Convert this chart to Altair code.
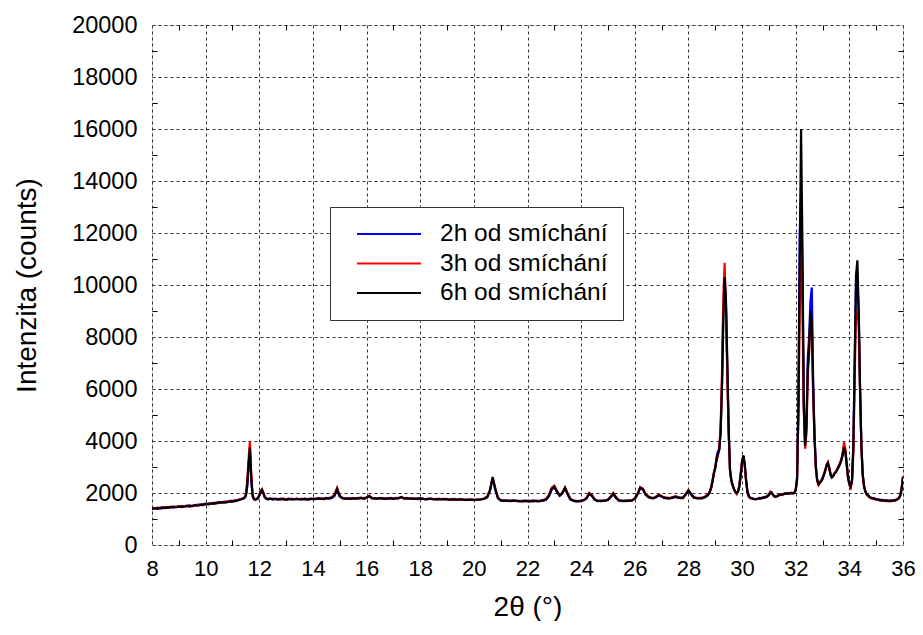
import altair as alt
import numpy as np
import pandas as pd

# ---------------- data ----------------
series_labels = ["2h od smíchání", "3h od smíchání", "6h od smíchání"]
series_colors = ["#0000ff", "#ff0000", "#000000"]

# sampling positions (2theta, degrees) of the four segments
x_seg_a = np.linspace(8.0, 11.4, 35)
x_seg_b = np.linspace(11.45, 12.40, 20)
x_seg_c = np.linspace(12.5, 28.7, 163)
x_seg_d = np.linspace(28.75, 36.0, 146)

# ---- 6h (black)
k_a = [1400,1420,1390,1430,1440,1420,1450,1460,1440,1470,
       1480,1460,1490,1500,1480,1510,1530,1510,1540,1560,
       1580,1560,1590,1610,1600,1630,1650,1630,1660,1680,
       1670,1700,1720,1750,1780]
k_b = [1820,1900,2300,3100,3750,2600,1900,1760,1750,1770,
       1800,1900,2050,2120,2000,1850,1790,1770,1760,1780]
k_c = [1760,1780,1750,1770,1760,1740,1770,1750,1760,1780,
       1750,1760,1770,1750,1780,1770,1760,1790,1780,1770,
       1800,1790,1820,1900,2150,1880,1800,1780,1790,1770,
       1800,1780,1790,1810,1790,1820,1880,1800,1790,1780,
       1800,1790,1770,1790,1800,1780,1790,1810,1850,1790,
       1800,1780,1790,1770,1780,1790,1770,1760,1780,1770,
       1750,1770,1760,1750,1770,1760,1740,1760,1750,1740,
       1760,1740,1730,1750,1740,1730,1750,1740,1760,1790,
       1850,2100,2620,2150,1800,1720,1700,1710,1690,1700,
       1710,1690,1700,1680,1700,1690,1680,1700,1690,1680,
       1700,1720,1760,1900,2150,2250,2050,1900,2000,2200,
       1950,1760,1700,1680,1690,1700,1720,1800,1980,1900,
       1750,1700,1690,1700,1710,1740,1850,1980,1820,1720,
       1700,1690,1710,1700,1720,1780,1950,2200,2150,1950,
       1850,1810,1800,1850,1920,1870,1820,1800,1790,1820,
       1860,1830,1800,1820,1950,2100,1950,1830,1800,1790,
       1800,1830,1900]
k_d = [1950,2050,2200,2450,2750,2950,3300,3500,3650,4300,
       6000,8600,10300,9400,7000,4500,2900,2500,2300,2150,
       2050,1990,2050,2250,2700,3200,3450,3100,2500,2050,
       1880,1820,1800,1780,1770,1760,1770,1780,1800,1790,
       1800,1820,1830,1850,1870,1920,2000,2020,1930,1870,
       1850,1870,1900,1920,1950,1930,1960,1980,1970,1990,
       1970,1990,2000,1980,2000,2100,2500,5200,11000,16000,
       11500,5500,3800,4500,6800,7600,9000,8600,6000,4200,
       3000,2500,2350,2400,2450,2550,2700,2850,3050,3150,
       2950,2700,2600,2650,2750,2800,2900,3000,3100,3250,
       3450,3750,3600,3100,2600,2350,2250,2500,3800,7000,
       10400,10950,9000,6000,3800,2700,2250,2050,1950,1900,
       1850,1820,1800,1790,1780,1760,1750,1740,1720,1730,
       1710,1720,1700,1710,1700,1690,1710,1700,1720,1710,
       1740,1760,1800,1900,2150,2600]

# ---- 3h (red)
r_a = [1430,1400,1440,1420,1460,1450,1430,1480,1470,1450,
       1500,1490,1470,1520,1510,1490,1540,1550,1530,1570,
       1560,1600,1580,1620,1630,1610,1640,1670,1660,1690,
       1700,1680,1740,1760,1800]
r_b = [1840,1950,2450,3300,4000,2700,1950,1780,1770,1760,
       1820,1920,2080,2150,2020,1870,1800,1790,1780,1770]
r_c = [1780,1760,1770,1750,1790,1760,1750,1780,1770,1760,
       1770,1780,1750,1770,1760,1790,1780,1770,1800,1760,
       1790,1810,1840,1930,2200,1900,1790,1800,1770,1790,
       1780,1800,1810,1790,1810,1800,1900,1790,1800,1770,
       1790,1810,1780,1770,1810,1790,1800,1790,1830,1800,
       1790,1800,1770,1790,1760,1800,1780,1770,1760,1790,
       1770,1750,1780,1760,1750,1770,1760,1740,1770,1760,
       1740,1760,1750,1730,1760,1740,1730,1760,1750,1800,
       1870,2120,2580,2180,1820,1730,1720,1690,1710,1690,
       1700,1710,1680,1700,1690,1710,1700,1680,1710,1700,
       1690,1740,1780,1930,2200,2280,2080,1920,2020,2220,
       1980,1780,1720,1690,1700,1690,1740,1820,2000,1920,
       1770,1690,1710,1690,1720,1750,1870,2000,1840,1740,
       1690,1710,1700,1720,1700,1800,1970,2230,2170,1970,
       1870,1830,1790,1870,1940,1890,1800,1820,1810,1800,
       1880,1850,1820,1800,1970,2120,1970,1850,1790,1810,
       1820,1850,1930]
r_d = [1970,2080,2230,2500,2800,3000,3250,3450,3700,4500,
       6500,9500,10850,9000,6500,4300,2850,2450,2280,2120,
       2030,1960,2080,2300,2750,3250,3400,3050,2450,2030,
       1860,1800,1790,1770,1760,1750,1760,1790,1780,1800,
       1810,1830,1850,1840,1880,1940,2050,2000,1920,1860,
       1870,1880,1890,1940,1930,1950,1970,1960,1990,1970,
       1990,2000,1980,2000,2020,2150,2600,5000,9000,11300,
       9500,5200,3700,4300,6500,7400,8800,8500,5800,4100,
       2950,2450,2300,2380,2480,2580,2720,2880,3080,3180,
       2980,2720,2620,2680,2770,2830,2920,3050,3150,3300,
       3550,3950,3700,3150,2580,2300,2200,2450,3600,6500,
       9000,8900,8500,5800,3700,2650,2220,2030,1930,1880,
       1830,1800,1780,1770,1760,1740,1730,1720,1710,1700,
       1720,1700,1690,1700,1690,1680,1700,1690,1710,1700,
       1730,1770,1820,1950,2200,2650]

# ---- 2h (blue)
b_a = [1380,1410,1430,1400,1420,1460,1440,1450,1480,1460,
       1470,1500,1480,1490,1520,1500,1510,1540,1560,1530,
       1590,1570,1610,1580,1620,1650,1620,1660,1640,1700,
       1690,1720,1710,1770,1790]
b_b = [1810,1880,2250,3000,3650,2550,1880,1770,1740,1780,
       1790,1890,2040,2100,1990,1840,1800,1760,1770,1790]
b_c = [1750,1770,1760,1780,1750,1760,1780,1760,1750,1770,
       1760,1750,1780,1760,1770,1760,1780,1800,1770,1790,
       1810,1780,1810,1880,2100,1870,1810,1790,1780,1800,
       1790,1790,1800,1820,1780,1830,1870,1810,1780,1790,
       1810,1780,1790,1800,1790,1770,1810,1800,1840,1780,
       1810,1790,1780,1780,1790,1770,1790,1750,1770,1780,
       1760,1760,1750,1770,1760,1750,1750,1770,1740,1750,
       1750,1750,1740,1740,1750,1740,1740,1750,1770,1780,
       1840,2080,2550,2120,1790,1710,1710,1720,1700,1710,
       1720,1700,1690,1690,1710,1680,1690,1710,1700,1690,
       1710,1710,1750,1880,2130,2230,2040,1890,1990,2180,
       1940,1750,1710,1700,1680,1710,1730,1790,1960,1890,
       1740,1710,1700,1710,1700,1730,1840,1960,1810,1710,
       1710,1700,1690,1710,1730,1770,1940,2180,2140,1940,
       1840,1800,1810,1840,1910,1860,1830,1790,1800,1830,
       1850,1820,1810,1830,1940,2090,1940,1820,1810,1800,
       1790,1840,1890]
b_d = [1960,2060,2210,2470,2770,2980,3400,3600,3700,4400,
       6200,9000,10100,9200,6800,4400,2880,2480,2290,2140,
       2040,1980,2060,2270,2720,3220,3420,3080,2480,2040,
       1890,1830,1810,1790,1780,1770,1780,1790,1810,1800,
       1820,1830,1840,1860,1880,1930,1990,2010,1940,1880,
       1860,1880,1910,1930,1940,1940,1950,1990,1980,2000,
       1980,2000,2010,1990,2010,2120,2550,5500,12000,13500,
       10500,5400,3900,4700,7200,8000,9400,9900,6300,4300,
       3020,2520,2370,2420,2470,2560,2710,2870,3060,3160,
       2960,2710,2610,2660,2760,2810,2910,3020,3120,3270,
       3480,3800,3620,3120,2620,2370,2260,2520,3900,7200,
       10300,10100,8800,5900,3750,2690,2260,2060,1960,1910,
       1860,1830,1810,1800,1790,1770,1760,1750,1730,1740,
       1720,1730,1710,1720,1710,1700,1720,1710,1730,1720,
       1750,1770,1810,1910,2170,2620]

x_major = [8, 10, 12, 14, 16, 18, 20, 22, 24, 26, 28, 30, 32, 34, 36]
x_minor = [9, 11, 13, 15, 17, 19, 21, 23, 25, 27, 29, 31, 33, 35]
y_major = [0, 2000, 4000, 6000, 8000, 10000, 12000, 14000, 16000, 18000, 20000]
y_minor = [1000, 3000, 5000, 7000, 9000, 11000, 13000, 15000, 17000, 19000]

# ---------------- table ----------------
x_all = np.round(np.concatenate([x_seg_a, x_seg_b, x_seg_c, x_seg_d]), 3)
rows = []
for lab, parts in zip(series_labels,
                      [(b_a, b_b, b_c, b_d), (r_a, r_b, r_c, r_d), (k_a, k_b, k_c, k_d)]):
    yy = list(parts[0]) + list(parts[1]) + list(parts[2]) + list(parts[3])
    rows.append(pd.DataFrame({"x": x_all, "y": yy, "series": lab}))
df = pd.concat(rows, ignore_index=True)

W, H = 751, 520
PAD_L = 144
FONT = "Liberation Sans"
xs = alt.Scale(domain=[8, 36], nice=False, zero=False)
ys = alt.Scale(domain=[0, 20000], nice=False)
cs = alt.Scale(domain=series_labels, range=series_colors)

legend = alt.Legend(
    orient="none", legendX=178, legendY=182,
    symbolType="stroke", symbolSize=4096, symbolStrokeWidth=2,
    clipHeight=24, rowPadding=4.5,
    labelFontSize=24.5, labelFont=FONT, labelColor="black", labelOffset=18,
    labelLimit=400,
    padding=15, symbolOffset=11,
    strokeColor="#333333", fillColor="white", cornerRadius=0,
)

x_main = alt.Axis(
    values=x_major, format="d", grid=True, ticks=False, domain=False,
    labelFontSize=22, labelFont=FONT, labelColor="black", labelPadding=13,
    labelFlush=False,
    title="2θ (°)", titleFontSize=28, titleFont=FONT, titleFontWeight="normal",
    titleColor="black", titleBaseline="alphabetic", titleY=70,
    gridColor="#333333", gridDash=[3, 3], gridWidth=1,
)
y_main = alt.Axis(
    values=y_major, format="d", grid=True, ticks=False, domain=False,
    labelFontSize=23.5, labelFont=FONT, labelColor="black", labelPadding=15,
    title="Intenzita (counts)", titleFontSize=28, titleFont=FONT,
    titleFontWeight="normal", titleColor="black", titleAngle=270,
    titleX=-125, titleY=H / 2, titleBaseline="middle", titleAlign="center",
    gridColor="#333333", gridDash=[3, 3], gridWidth=1,
)

layers = []
for i, lab in enumerate(series_labels):
    enc_x = alt.X("x:Q", scale=xs, axis=x_main if i == 0 else None)
    enc_y = alt.Y("y:Q", scale=ys, axis=y_main if i == 0 else None)
    layers.append(
        alt.Chart(df).transform_filter(alt.datum.series == lab)
        .mark_line(strokeWidth=2.2, clip=True)
        .encode(x=enc_x, y=enc_y,
                color=alt.Color("series:N", scale=cs, legend=legend, title=None))
    )

dummy = pd.DataFrame({"x": [8.0], "y": [0.0]})


def tick_axis(vals, orient, offset):
    return alt.Axis(values=vals, orient=orient, offset=offset, labels=False,
                    grid=False, domain=False, ticks=True, tickSize=5,
                    tickColor="black", tickWidth=1, title=None)


# inward minor ticks: bottom / left edges
t1 = alt.Chart(dummy).mark_point(opacity=0).encode(
    x=alt.X("x:Q", scale=xs, axis=tick_axis(x_minor, "top", -H)),
    y=alt.Y("y:Q", scale=ys, axis=tick_axis(y_minor, "right", -W)),
)
# inward minor ticks: top / right edges
t2 = alt.Chart(dummy).mark_point(opacity=0).encode(
    x=alt.X("x:Q", scale=xs, axis=tick_axis(x_minor, "bottom", -H)),
    y=alt.Y("y:Q", scale=ys, axis=tick_axis(y_minor, "left", -W)),
)

chart = (
    alt.layer(*layers, t1, t2)
    .resolve_axis(x="independent", y="independent")
    .properties(
        width=W, height=H,
        padding={"left": PAD_L, "top": 17, "right": 907 - PAD_L - W, "bottom": 76},
        autosize=alt.AutoSizeParams(type="none"),
        background="white",
    )
    .configure_view(stroke="#222222", strokeWidth=1)
    .configure(font=FONT)
)

chart.save("out.html", embed_options={"renderer": "svg", "actions": False})
